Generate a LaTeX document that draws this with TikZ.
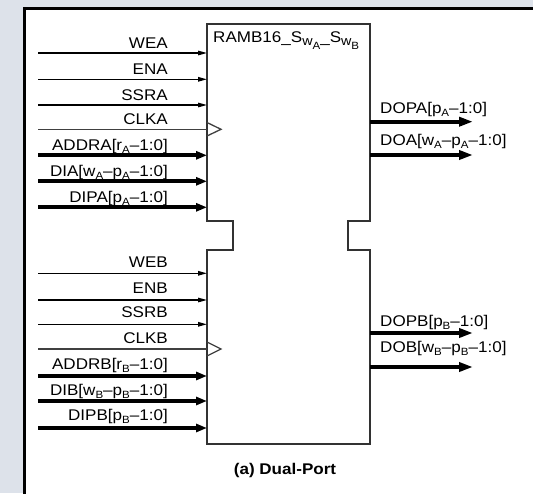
\documentclass[tikz,border=0pt]{standalone}
\usepackage{fontspec}
\setmainfont{Liberation Sans}[FakeStretch=1.1]
\usetikzlibrary{positioning,arrows.meta}

\definecolor{slidebg}{RGB}{221,226,234}
\definecolor{boxline}{RGB}{50,50,50}

\tikzset{
  lbl/.style={inner sep=0pt, font=\fontsize{15.5}{17}\selectfont},
  pinname/.style={lbl, anchor=base east},
  outname/.style={lbl, anchor=base west},
  pin/.style={line width=1.3pt, -{Triangle[length=9pt,width=4.5pt]}},
  bus/.style={line width=3.8pt, -{Triangle[length=11pt,width=8pt]}},
  clk/.style={line width=1.3pt, draw=black!75},
  outbus/.style={line width=3.8pt, -{Triangle[length=14pt,width=9pt]}}
}
\newcommand{\pinsub}[1]{\raisebox{-3pt}{\fontsize{10.5}{11}\selectfont #1}}
\newcommand{\wsub}[1]{\raisebox{-3.5pt}{\fontsize{13}{13}\selectfont w\raisebox{-4pt}{\fontsize{10.5}{11}\selectfont #1}}}

\begin{document}
\begin{tikzpicture}[x=1pt, y=-1pt]
  \useasboundingbox (0,0) rectangle (533,493);
  % slide and white panel
  \fill[slidebg] (0,0) rectangle (533,493);
  \begin{scope}
    \clip (0,0) rectangle (533,493);
    \draw[line width=3pt, fill=white] (24,8) rectangle (560,520);
  \end{scope}

  % block outline with the notch between the ports
  \draw[boxline, line width=2pt, line join=miter]
    (207,24) -- (207,221) -- (233,221) -- (233,250) -- (207,250) -- (207,444)
    -- (370,444) -- (370,250) -- (348,250) -- (348,221) -- (370,221) -- (370,24) -- cycle;
  \node[lbl, anchor=base west] (title) at (213,42) {RAMB16\_S\wsub{A}\_S\wsub{B}};

  % Port A inputs
  \coordinate (wea-s) at (38,53);     \coordinate (wea-e) at (207,53);
  \node[pinname] (wea) at (168,48) {WEA};
  \draw[pin] (wea-s) -- (wea-e);
  \coordinate (ena-s) at (38,79.3);   \coordinate (ena-e) at (207,79.3);
  \node[pinname] (ena) at (168,74.3) {ENA};
  \draw[pin] (ena-s) -- (ena-e);
  \coordinate (ssra-s) at (38,105);   \coordinate (ssra-e) at (207,105);
  \node[pinname] (ssra) at (168,100) {SSRA};
  \draw[pin] (ssra-s) -- (ssra-e);
  \coordinate (clka-s) at (38,129.3); \coordinate (clka-e) at (207,129.3);
  \node[pinname] (clka) at (168,124.5) {CLKA};
  \draw[clk] (clka-s) -- (clka-e);
  \draw[clk] (207,122.5) -- (221,129.3) -- (207,136);
  \coordinate (addra-s) at (38,155.3); \coordinate (addra-e) at (207,155.3);
  \node[pinname] (addra) at (168,150) {ADDRA[r\pinsub{A}--1:0]};
  \draw[bus] (addra-s) -- (addra-e);
  \coordinate (dia-s) at (38,181.3);  \coordinate (dia-e) at (207,181.3);
  \node[pinname] (dia) at (168,176.5) {DIA[w\pinsub{A}--p\pinsub{A}--1:0]};
  \draw[bus] (dia-s) -- (dia-e);
  \coordinate (dipa-s) at (38,207.3); \coordinate (dipa-e) at (207,207.3);
  \node[pinname] (dipa) at (168,202) {DIPA[p\pinsub{A}--1:0]};
  \draw[bus] (dipa-s) -- (dipa-e);

  % Port A outputs
  \coordinate (dopa-s) at (370,121.7); \coordinate (dopa-e) at (473,121.7);
  \node[outname] (dopa) at (380,113) {DOPA[p\pinsub{A}--1:0]};
  \draw[outbus] (dopa-s) -- (dopa-e);
  \coordinate (doa-s) at (370,155);   \coordinate (doa-e) at (473,155);
  \node[outname] (doa) at (380,145) {DOA[w\pinsub{A}--p\pinsub{A}--1:0]};
  \draw[outbus] (doa-s) -- (doa-e);

  % Port B inputs
  \coordinate (web-s) at (38,273.3);  \coordinate (web-e) at (207,273.3);
  \node[pinname] (web) at (168,267) {WEB};
  \draw[pin] (web-s) -- (web-e);
  \coordinate (enb-s) at (38,300);    \coordinate (enb-e) at (207,300);
  \node[pinname] (enb) at (168,293.5) {ENB};
  \draw[pin] (enb-s) -- (enb-e);
  \coordinate (ssrb-s) at (38,324.3); \coordinate (ssrb-e) at (207,324.3);
  \node[pinname] (ssrb) at (168,317.5) {SSRB};
  \draw[pin] (ssrb-s) -- (ssrb-e);
  \coordinate (clkb-s) at (38,349);   \coordinate (clkb-e) at (207,349);
  \node[pinname] (clkb) at (168,343) {CLKB};
  \draw[clk] (clkb-s) -- (clkb-e);
  \draw[clk] (207,342) -- (221,349) -- (207,356);
  \coordinate (addrb-s) at (38,376);  \coordinate (addrb-e) at (207,376);
  \node[pinname] (addrb) at (168,369.5) {ADDRB[r\pinsub{B}--1:0]};
  \draw[bus] (addrb-s) -- (addrb-e);
  \coordinate (dib-s) at (38,401);    \coordinate (dib-e) at (207,401);
  \node[pinname] (dib) at (168,395) {DIB[w\pinsub{B}--p\pinsub{B}--1:0]};
  \draw[bus] (dib-s) -- (dib-e);
  \coordinate (dipb-s) at (38,428);   \coordinate (dipb-e) at (207,428);
  \node[pinname] (dipb) at (168,420.5) {DIPB[p\pinsub{B}--1:0]};
  \draw[bus] (dipb-s) -- (dipb-e);

  % Port B outputs
  \coordinate (dopb-s) at (370,333);  \coordinate (dopb-e) at (473,333);
  \node[outname] (dopb) at (380,326) {DOPB[p\pinsub{B}--1:0]};
  \draw[outbus] (dopb-s) -- (dopb-e);
  \coordinate (dob-s) at (370,367);   \coordinate (dob-e) at (473,367);
  \node[outname] (dob) at (380,352) {DOB[w\pinsub{B}--p\pinsub{B}--1:0]};
  \draw[outbus] (dob-s) -- (dob-e);

  \node[lbl, font=\fontsize{15.5}{17}\selectfont\bfseries] (caption) at (285,470) {(a) Dual-Port};
\end{tikzpicture}
\end{document}
